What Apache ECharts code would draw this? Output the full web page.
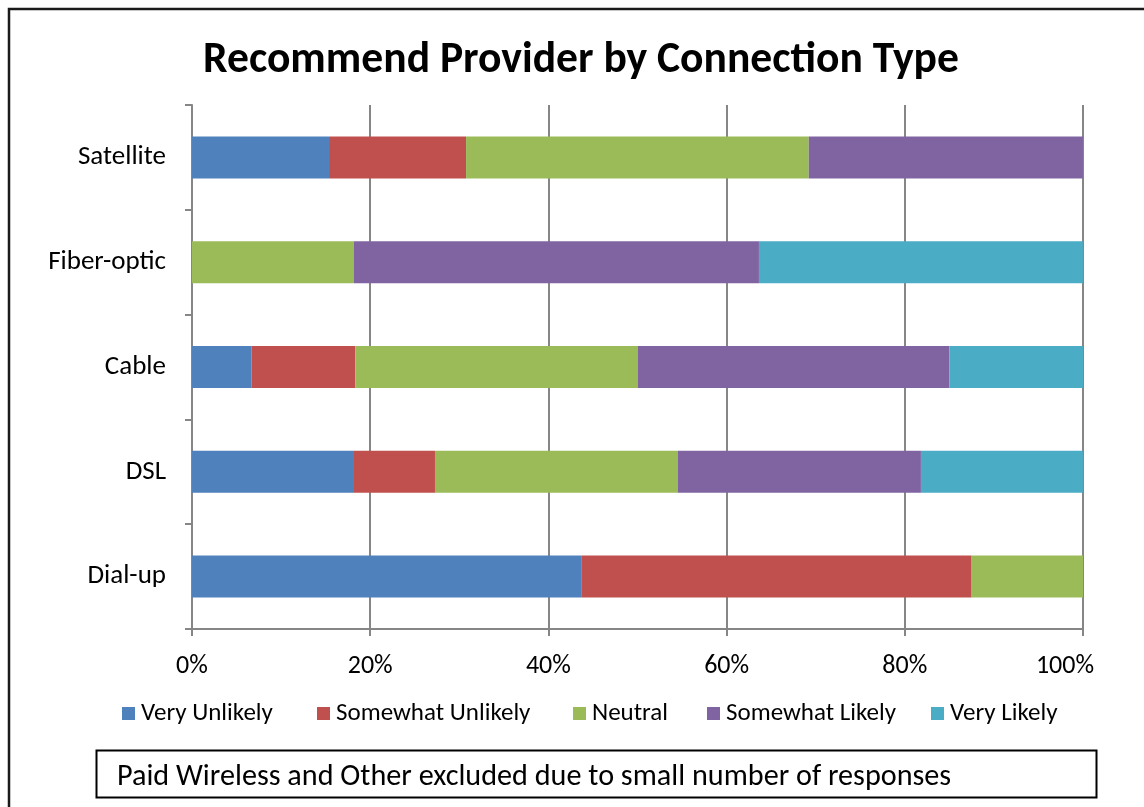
<!DOCTYPE html>
<html>
<head>
<meta charset="utf-8">
<script src="https://cdn.jsdelivr.net/npm/echarts@6/dist/echarts.min.js"></script>
<style>
html,body{margin:0;padding:0;background:#fff;}
#chart{width:1144px;height:807px;}
</style>
</head>
<body>
<div id="chart"></div>
<script>
var categories = ['Dial-up', 'DSL', 'Cable', 'Fiber-optic', 'Satellite'];
var seriesNames = ['Very Unlikely', 'Somewhat Unlikely', 'Neutral', 'Somewhat Likely', 'Very Likely'];
var veryUnlikely     = [43.75, 18.18, 6.67, 0, 15.38];
var somewhatUnlikely = [43.75, 9.09, 11.67, 0, 15.38];
var neutral          = [12.5, 27.27, 31.67, 18.18, 38.46];
var somewhatLikely   = [0, 27.27, 35.0, 45.45, 30.77];
var veryLikely       = [0, 18.18, 15.0, 36.36, 0];
var xTicks = [0, 20, 40, 60, 80, 100];
var colors = ['#4F81BD', '#C0504D', '#9BBB59', '#8064A2', '#4BACC6'];
var titleText = 'Recommend Provider by Connection Type';
var noteText = 'Paid Wireless and Other excluded due to small number of responses';

var FONT = 'Carlito, Calibri, Lato, sans-serif';
var allData = [veryUnlikely, somewhatUnlikely, neutral, somewhatLikely, veryLikely];
var legendLefts = [122, 317, 573, 707, 931];

var chart = echarts.init(document.getElementById('chart'), null, {renderer: 'canvas'});
var option = {
  backgroundColor: '#fff',
  animation: false,
  color: colors,
  title: {
    text: titleText,
    left: 576, top: 34, textAlign: 'center',
    textStyle: {fontFamily: FONT, fontSize: 43.6, fontWeight: 'bold', color: '#000'}
  },
  legend: seriesNames.map(function (n, i) {
    return {
      data: [n],
      left: legendLefts[i], top: 701, padding: 0,
      itemWidth: 13, itemHeight: 13,
      icon: 'rect',
      textStyle: {fontFamily: FONT, fontSize: 25, color: '#000', padding: [0,0,0,1]}
    };
  }),
  grid: {left: 192, right: 61, top: 105, bottom: 178, containLabel: false},
  xAxis: {
    type: 'value', min: 0, max: 100, interval: 20,
    axisLine: {show: true, lineStyle: {color: '#868686', width: 2}},
    axisTick: {show: true, length: 7, lineStyle: {color: '#868686', width: 2}},
    splitLine: {show: true, lineStyle: {color: '#868686', width: 2}},
    axisLabel: {
      margin: 24, fontFamily: FONT, fontSize: 26, color: '#000',
      formatter: function (v) {
        if (xTicks.indexOf(v) < 0) return '';
        return v === 100 ? '{m|' + v + '%}' : v + '%';
      },
      rich: {m: {fontFamily: FONT, fontSize: 26, color: '#000', padding: [0, 36, 0, 0]}}
    }
  },
  yAxis: {
    type: 'category', data: categories,
    axisLine: {show: true, lineStyle: {color: '#868686', width: 2}},
    axisTick: {show: true, length: 7, alignWithLabel: false, lineStyle: {color: '#868686', width: 2}},
    axisLabel: {margin: 26, fontFamily: FONT, fontSize: 27, color: '#000'}
  },
  series: seriesNames.map(function (n, i) {
    return {
      name: n, type: 'bar', stack: 'total', barWidth: 42,
      data: allData[i],
      itemStyle: {color: colors[i]}
    };
  }),
  graphic: [
    {type: 'rect', shape: {x: 9, y: 9, width: 1200, height: 900}, style: {fill: 'none', stroke: '#1a1a1a', lineWidth: 2.5}, silent: true},
    {type: 'rect', shape: {x: 96.5, y: 750.5, width: 1000, height: 47}, style: {fill: '#fff', stroke: '#000', lineWidth: 2}, silent: true},
    {type: 'text', x: 117, y: 777, style: {text: noteText, fontFamily: FONT, fontSize: 30.2, fill: '#000', textVerticalAlign: 'middle', verticalAlign: 'middle'}, silent: true}
  ]
};
chart.setOption(option);
</script>
</body>
</html>
